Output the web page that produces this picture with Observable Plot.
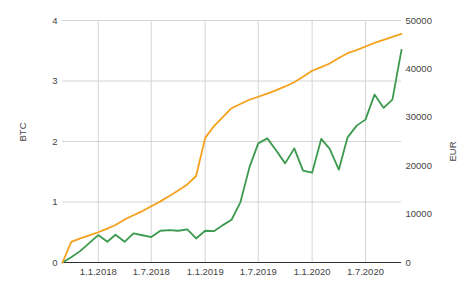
<!DOCTYPE html>
<html><head><meta charset="utf-8">
<script src="https://cdn.jsdelivr.net/npm/d3@7"></script>
<script src="https://cdn.jsdelivr.net/npm/@observablehq/plot@0.6"></script>
<style>body{margin:0;background:#fff;}</style>
</head><body><div id="chart"></div>
<script>
const months = ["2017-09-01","2017-10-01","2017-11-01","2017-12-01","2018-01-01","2018-02-01","2018-03-01","2018-04-01","2018-05-01","2018-06-01","2018-07-01","2018-08-01","2018-09-01","2018-10-01","2018-11-01","2018-12-01","2019-01-01","2019-02-01","2019-03-01","2019-04-01","2019-05-01","2019-06-01","2019-07-01","2019-08-01","2019-09-01","2019-10-01","2019-11-01","2019-12-01","2020-01-01","2020-02-01","2020-03-01","2020-04-01","2020-05-01","2020-06-01","2020-07-01","2020-08-01","2020-09-01","2020-10-01","2020-11-01"];
const btc = [0,0.34,0.40,0.45,0.50,0.56,0.62,0.71,0.78,0.85,0.93,1.01,1.10,1.19,1.29,1.43,2.06,2.26,2.40,2.55,2.62,2.69,2.74,2.79,2.85,2.91,2.98,3.07,3.17,3.23,3.29,3.38,3.46,3.51,3.57,3.63,3.68,3.73,3.78];
const eur = [0,1100,2400,4000,5670,4280,5730,4280,6000,5630,5250,6560,6700,6560,6830,4960,6560,6500,7670,8830,12410,19650,24620,25650,23100,20480,23580,18970,18560,25530,23460,19180,25860,28280,29520,34690,31940,33660,43940];
const btcTicks = [0,1,2,3,4];
const btcTickLabels = ["0","1","2","3","4"];
const eurTicks = [0,10000,20000,30000,40000,50000];
const dateTicks = ["2018-01-01","2018-07-01","2019-01-01","2019-07-01","2020-01-01","2020-07-01"];
const dateTickLabels = ["1.1.2018","1.7.2018","1.1.2019","1.7.2019","1.1.2020","1.7.2020"];

const EUR_MAX = 50000, BTC_MAX = 4;
const toBtc = v => v * BTC_MAX / EUR_MAX;
const data = months.map((m, i) => ({date: new Date(m), btc: btc[i], eur: eur[i]}));
const tickDates = dateTicks.map(d => new Date(d));
const orange = "#f6a11c", green = "#3b9a4e", txt = "#444";

const chart = Plot.plot({
  width: 474, height: 293,
  marginLeft: 62, marginRight: 73, marginTop: 20, marginBottom: 31,
  style: {fontFamily: "Arial, 'Liberation Sans', sans-serif", fontSize: "9.5px", color: txt, background: "#fff"},
  x: {type: "utc", domain: [data[0].date, data[data.length - 1].date]},
  y: {domain: [0, BTC_MAX]},
  marks: [
    Plot.gridX(tickDates, {stroke: "#d4d4d4", strokeOpacity: 1}),
    Plot.gridY(btcTicks, {stroke: "#d4d4d4", strokeOpacity: 1}),
    Plot.ruleY([0], {stroke: "#333", strokeWidth: 1}),
    Plot.axisX(tickDates, {anchor: "bottom", tickSize: 0, tickPadding: 6, label: null,
      tickFormat: d => dateTickLabels[tickDates.findIndex(t => +t === +d)], fill: txt}),
    Plot.axisY(btcTicks, {anchor: "left", tickSize: 0, tickPadding: 5, label: null, fill: txt,
      tickFormat: d => btcTickLabels[btcTicks.indexOf(d)]}),
    Plot.axisY(eurTicks.map(toBtc), {anchor: "right", tickSize: 0, tickPadding: 4, label: null, fill: txt,
      tickFormat: d => String(eurTicks[eurTicks.findIndex(v => Math.abs(toBtc(v) - d) < 1e-9)])}),
    Plot.lineY(data, {x: "date", y: d => toBtc(d.eur), stroke: green, strokeWidth: 1.8}),
    Plot.lineY(data, {x: "date", y: "btc", stroke: orange, strokeWidth: 1.8}),
    Plot.text(["BTC"], {frameAnchor: "left", dx: -40, rotate: -90, fill: txt}),
    Plot.text(["EUR"], {frameAnchor: "right", dx: 51, rotate: -90, fill: txt})
  ]
});
document.getElementById("chart").append(chart);
</script>
</body></html>
